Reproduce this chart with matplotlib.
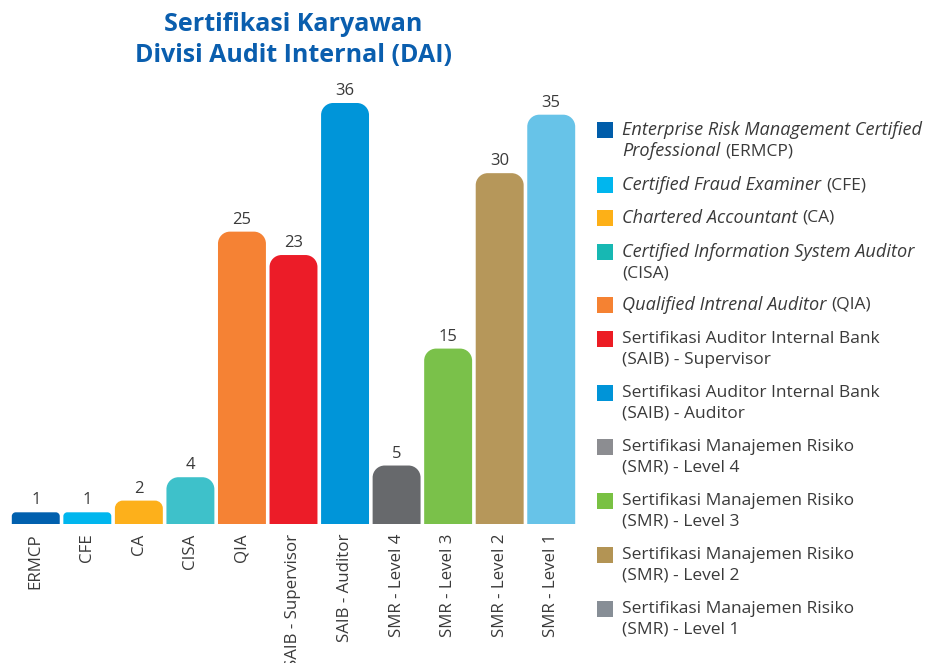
import matplotlib
matplotlib.use("Agg")
import matplotlib.pyplot as plt
from matplotlib.path import Path
from matplotlib.patches import PathPatch, Rectangle

# ---- data ----
categories = ["ERMCP", "CFE", "CA", "CISA", "QIA", "SAIB - Supervisor", "SAIB - Auditor",
              "SMR - Level 4", "SMR - Level 3", "SMR - Level 2", "SMR - Level 1"]
values = [1, 1, 2, 4, 25, 23, 36, 5, 15, 30, 35]
legend_labels = [
    [[("Enterprise Risk Management Certified", "italic")], [("Professional", "italic"), ("(ERMCP)", "normal")]],
    [[("Certified Fraud Examiner", "italic"), ("(CFE)", "normal")]],
    [[("Chartered Accountant", "italic"), ("(CA)", "normal")]],
    [[("Certified Information System Auditor", "italic")], [("(CISA)", "normal")]],
    [[("Qualified Intrenal Auditor", "italic"), ("(QIA)", "normal")]],
    [[("Sertifikasi Auditor Internal Bank", "normal")], [("(SAIB) - Supervisor", "normal")]],
    [[("Sertifikasi Auditor Internal Bank", "normal")], [("(SAIB) - Auditor", "normal")]],
    [[("Sertifikasi Manajemen Risiko", "normal")], [("(SMR) - Level 4", "normal")]],
    [[("Sertifikasi Manajemen Risiko", "normal")], [("(SMR) - Level 3", "normal")]],
    [[("Sertifikasi Manajemen Risiko", "normal")], [("(SMR) - Level 2", "normal")]],
    [[("Sertifikasi Manajemen Risiko", "normal")], [("(SMR) - Level 1", "normal")]],
]
title = "Sertifikasi Karyawan\nDivisi Audit Internal (DAI)"

# ---- styles ----
bar_colors = ["#0160AE", "#00B6EE", "#FDB01B", "#3EC1CA", "#F58234", "#EC1C28",
              "#0095D9", "#67696C", "#7AC14A", "#B6975A", "#67C3E8"]
legend_colors = ["#005DAA", "#00B6EE", "#FDB017", "#17B8B3", "#F58232", "#EC1C24",
                 "#0094D8", "#8C8D91", "#79C143", "#B39454", "#878E96"]
legend_y = [130, 185, 218, 252, 305, 339, 393, 447, 501, 555, 609]
TEXT = "#3a3a3a"
FONT = "Open Sans"
plt.rcParams["font.family"] = [FONT, "DejaVu Sans"]

W, H = 929, 663
fig = plt.figure(figsize=(W / 100, H / 100), dpi=100)
ax_left, ax_right, ax_base, ax_top = 10, 577, 524, 103
ax = fig.add_axes([ax_left / W, (H - ax_base) / H, (ax_right - ax_left) / W, (ax_base - ax_top) / H])
ax.set_xlim(-0.5, len(categories) - 0.5)
ax.set_ylim(0, max(values))
for s in ax.spines.values():
    s.set_visible(False)
ax.set_yticks([])

xs = list(range(len(categories)))
bars = ax.bar(xs, values, width=0.93, color=bar_colors)

px_x = (ax_right - ax_left) / (len(categories))
px_y = (ax_base - ax_top) / max(values)
k = 0.5523
for rect, col in zip(bars, bar_colors):
    rect.set_visible(False)
    x0, w, h = rect.get_x(), rect.get_width(), rect.get_height()
    x1 = x0 + w
    hpx = h * px_y
    rpx = min(12, hpx / 3)
    rx, ry = rpx / px_x, rpx / px_y
    verts = [(x0, 0), (x0, h - ry),
             (x0, h - ry + k * ry), (x0 + rx - k * rx, h), (x0 + rx, h),
             (x1 - rx, h),
             (x1 - rx + k * rx, h), (x1, h - ry + k * ry), (x1, h - ry),
             (x1, 0), (x0, 0)]
    codes = [Path.MOVETO, Path.LINETO,
             Path.CURVE4, Path.CURVE4, Path.CURVE4,
             Path.LINETO,
             Path.CURVE4, Path.CURVE4, Path.CURVE4,
             Path.LINETO, Path.CLOSEPOLY]
    ax.add_patch(PathPatch(Path(verts, codes), facecolor=col, edgecolor="none"))
    ax.annotate(str(int(h)), (x0 + w / 2, h), xytext=(0, 12), textcoords="offset pixels",
                ha="center", va="center", fontsize=12, color=TEXT, annotation_clip=False)

ax.set_xticks(xs)
ax.set_xticklabels(categories, rotation=90, fontsize=12.2, color=TEXT, va="top", ha="center")
ax.tick_params(axis="x", length=0, pad=7)

fig.text((ax_left + ax_right) / 2 / W, 1 - 40 / H, title, ha="center", va="center",
         fontsize=18, fontweight="bold", color="#0A5EAE", linespacing=1.3)

# ---- manual legend ----
renderer = fig.canvas.get_renderer()
sq = 16
tx = 622
line_h = 21
for lines, col, yc in zip(legend_labels, legend_colors, legend_y):
    fig.patches.append(Rectangle(((597) / W, (H - yc - sq / 2) / H), sq / W, sq / H,
                                 transform=fig.transFigure, facecolor=col, edgecolor="none"))
    for li, runs in enumerate(lines):
        y = yc + li * line_h
        x = tx
        for ri, (txt, style) in enumerate(runs):
            if ri > 0:
                x += 5
            fs = 13.1 if style == "italic" else 12.5
            t = fig.text(x / W, 1 - y / H, txt, ha="left", va="center", fontsize=fs,
                         style=style, color=TEXT)
            bb = t.get_window_extent(renderer)
            x += bb.width

fig.savefig("out.png", dpi=100)
